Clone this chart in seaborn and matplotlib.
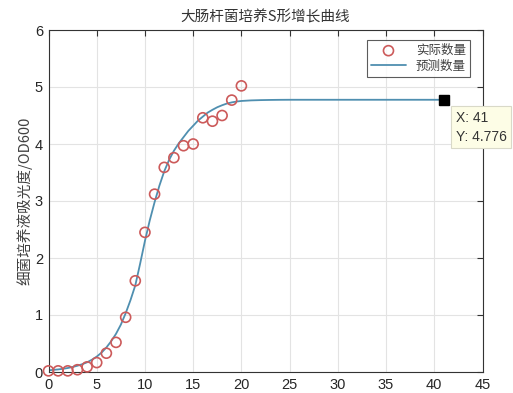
import numpy as np
import pandas as pd
import matplotlib
matplotlib.use("Agg")
import matplotlib.pyplot as plt
from matplotlib.patches import Rectangle
import seaborn as sns

# ---- data ----
obs_x = list(range(0, 21))
obs_y = [0.02, 0.02, 0.02, 0.04, 0.09, 0.165, 0.33, 0.52, 0.96, 1.60, 2.45,
         3.12, 3.59, 3.76, 3.97, 4.00, 4.46, 4.40, 4.50, 4.77, 5.02]

fit_x = [0, 0.5, 1, 1.5, 2, 2.5, 3, 3.5, 4, 4.5, 5, 5.5, 6, 6.5, 7, 7.5, 8, 8.5,
         9, 9.5, 10, 10.5, 11, 11.5, 12, 12.5, 13, 13.5, 14, 14.5, 15, 15.5,
         16, 16.5, 17, 17.5, 18, 18.5, 19, 19.5, 20, 21, 22, 23, 24, 25, 30,
         35, 41]
fit_y = [0.03, 0.037, 0.045, 0.056, 0.07, 0.088, 0.11, 0.137, 0.17, 0.215,
         0.27, 0.34, 0.43, 0.54, 0.67, 0.83, 1.03, 1.26, 1.52, 1.90, 2.30,
         2.66, 2.98, 3.27, 3.52, 3.72, 3.88, 4.01, 4.12, 4.23, 4.32, 4.41,
         4.48, 4.55, 4.60, 4.645, 4.68, 4.71, 4.73, 4.745, 4.755, 4.765,
         4.770, 4.773, 4.775, 4.776, 4.776, 4.776, 4.776]

tip_x = 41
tip_y = 4.776

x_ticks = [0, 5, 10, 15, 20, 25, 30, 35, 40, 45]
y_ticks = [0, 1, 2, 3, 4, 5, 6]

title = "大肠杆菌培养S形增长曲线"
ylabel = "细菌培养液吸光度/OD600"
legend_labels = ["实际数量", "预测数量"]

# ---- style ----
sns.set_theme(style="white")
plt.rcParams['font.family'] = ['Noto Sans CJK SC', 'DejaVu Sans']
plt.rcParams['axes.unicode_minus'] = False

W, H = 513, 393
fig = plt.figure(figsize=(W / 100, H / 100), dpi=100)
fig.patch.set_facecolor("white")
left, right, top, bottom = 48.5, 482.5, 30, 372
ax = fig.add_axes([left / W, (H - bottom) / H, (right - left) / W, (bottom - top) / H])
ax.set_facecolor("white")

obs = pd.DataFrame({"x": obs_x, "y": obs_y})
fit = pd.DataFrame({"x": fit_x, "y": fit_y})

line_color = "#4f8fb0"
mark_color = "#cc5a5a"

sns.scatterplot(data=obs, x="x", y="y", ax=ax, marker="o", s=52,
                facecolor="none", edgecolor=mark_color, linewidth=1.2,
                label=legend_labels[0], zorder=3, clip_on=False)
sns.lineplot(data=fit, x="x", y="y", ax=ax, color=line_color, linewidth=1.3,
             label=legend_labels[1], zorder=2)

ax.plot([tip_x], [tip_y], marker="s", color="black", markersize=7, zorder=5,
        clip_on=False)

ax.set_xlim(0, 45)
ax.set_ylim(0, 6)
ax.set_xticks(x_ticks)
ax.set_yticks(y_ticks)
ax.set_xlabel("")
ax.set_ylabel(ylabel, fontsize=10.5, color="#404040")
ax.set_title(title, fontsize=10.5, color="#333333", pad=6)

ax.grid(True, color="#e3e3e3", linewidth=0.8)
ax.set_axisbelow(True)
for s in ax.spines.values():
    s.set_color("#333333")
    s.set_linewidth(0.8)
ax.tick_params(direction="in", length=4, width=0.8, colors="#333333",
               top=True, right=True, labelsize=10.5, pad=4)
for lbl in ax.get_xticklabels() + ax.get_yticklabels():
    lbl.set_color("#262626")
    lbl.set_family("Liberation Sans")

leg = ax.legend(loc="upper right", bbox_to_anchor=(0.972, 0.972),
                borderaxespad=0, fontsize=9, frameon=True, fancybox=False,
                handlelength=2.8, handletextpad=0.8, borderpad=0.35,
                labelspacing=0.2)
leg.get_frame().set_edgecolor("#333333")
leg.get_frame().set_linewidth(0.8)
for t in leg.get_texts():
    t.set_color("#404040")

# data tip box
bx0, by0, bx1, by1 = 451, 106, 511, 148
fig.patches.append(Rectangle((bx0 / W, (H - by1) / H), (bx1 - bx0) / W,
                             (by1 - by0) / H, transform=fig.transFigure,
                             facecolor="#fdfde6", edgecolor="#d9d9c8",
                             linewidth=0.8, zorder=10))
fig.text(456 / W, (H - 118) / H, "X: 41", fontsize=10, color="#333333",
         va="center", ha="left", zorder=11, family="Liberation Sans")
fig.text(456 / W, (H - 137) / H, "Y: 4.776", fontsize=10, color="#333333",
         va="center", ha="left", zorder=11, family="Liberation Sans")

ax.yaxis.set_label_coords(-0.037, 0.5)

fig.savefig("out.png", dpi=100, facecolor="white")
